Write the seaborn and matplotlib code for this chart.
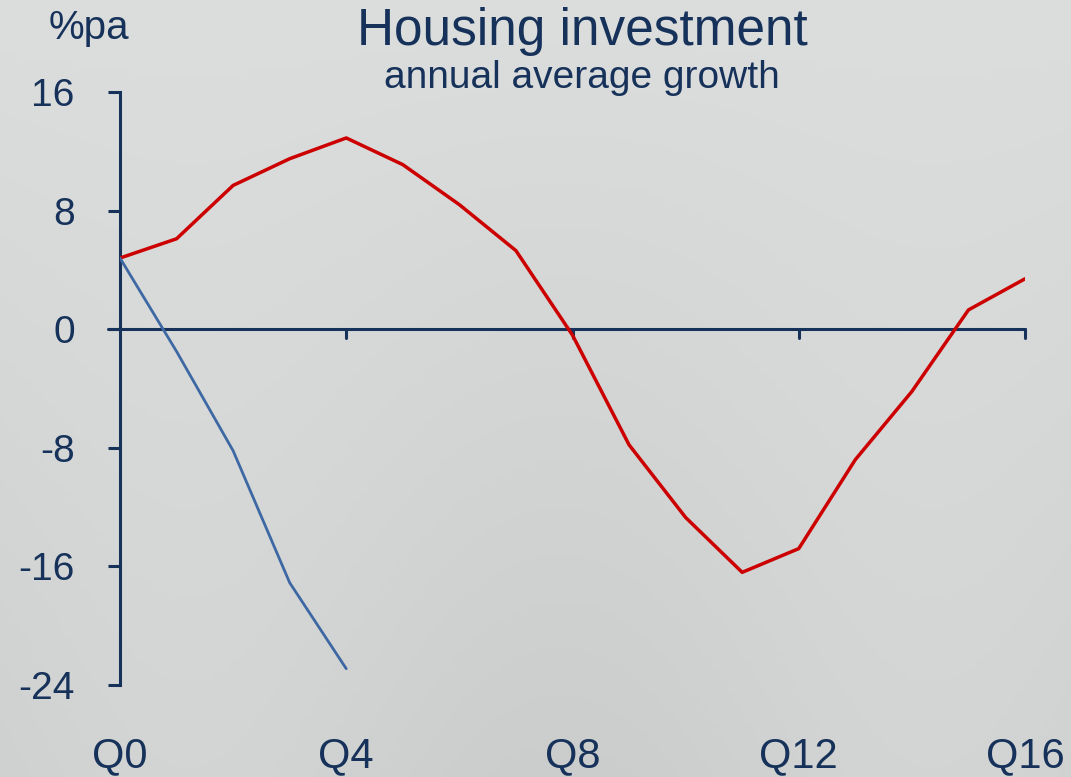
import numpy as np
import pandas as pd
import seaborn as sns
import matplotlib.pyplot as plt

# data
quarters = list(range(17))
red_vals = [4.8, 6.1, 9.7, 11.5, 12.9, 11.1, 8.4, 5.3, -0.4, -7.8, -12.7, -16.4, -14.8, -8.8, -4.2, 1.3, 3.4]
blue_quarters = [0, 1, 2, 3, 4]
blue_vals = [4.8, -1.5, -8.2, -17.1, -22.9]
y_ticks = [-24, -16, -8, 0, 8, 16]
x_ticks = [0, 4, 8, 12, 16]
x_labels = ["Q0", "Q4", "Q8", "Q12", "Q16"]

navy = "#17325A"
red = "#CC0000"
blue = "#3D68A3"

sns.set_style("white")
plt.rcParams["font.family"] = ["Liberation Sans", "DejaVu Sans"]

fig = plt.figure(figsize=(10.71, 7.77), dpi=100)

# soft grey background
bg = fig.add_axes([0, 0, 1, 1], zorder=0)
gy, gx = np.mgrid[0:1:200j, 0:1:200j]
shade = 0.86 - 0.05 * gy + 0.015 * np.sin(gx * 9) * gy
bg.imshow(np.dstack([shade, shade + 0.01, shade + 0.005]).clip(0, 1), aspect="auto", extent=[0, 1, 0, 1])
bg.axis("off")

W, H = 1071, 777
ax = fig.add_axes([120 / W, (H - 685) / H, (1025 - 120) / W, (685 - 92) / H], zorder=1)
ax.patch.set_alpha(0)

df_red = pd.DataFrame({"q": quarters, "v": red_vals})
df_blue = pd.DataFrame({"q": blue_quarters, "v": blue_vals})
sns.lineplot(data=df_red, x="q", y="v", color=red, linewidth=2.5, ax=ax, zorder=3)
sns.lineplot(data=df_blue, x="q", y="v", color=blue, linewidth=2.0, ax=ax, zorder=3)

ax.set_xlim(0, 16)
ax.set_ylim(-24, 16)
for s in ["top", "right", "bottom"]:
    ax.spines[s].set_visible(False)
ax.spines["left"].set_color(navy)
ax.spines["left"].set_linewidth(2.2)

# zero line with quarter ticks
ax.plot([-0.22, 16], [0, 0], color=navy, linewidth=2.2, clip_on=False, zorder=2)
for xt in x_ticks[1:]:
    ax.plot([xt, xt], [0, -0.6], color=navy, linewidth=2.2, clip_on=False, zorder=2)

ax.set_yticks(y_ticks)
ax.set_yticklabels([str(t) for t in y_ticks])
ax.tick_params(axis="y", direction="out", length=8.5, width=2.2, color=navy,
               labelcolor=navy, labelsize=28, pad=24, left=True)
ax.set_xticks([])
ax.set_xlabel("")
ax.set_ylabel("")

for xt, lab in zip(x_ticks, x_labels):
    ax.text(xt, -0.12, lab, transform=ax.get_xaxis_transform(), ha="center", va="center",
            fontsize=30, color=navy, clip_on=False)

fig.text(582 / W, 1 - 31 / H, "Housing investment", ha="center", va="center", fontsize=37, color=navy)
fig.text(582 / W, 1 - 78 / H, "annual average growth", ha="center", va="center", fontsize=28,
         color=navy)
fig.text(89 / W, 1 - 28 / H, "%pa", ha="center", va="center", fontsize=29, color=navy)

fig.savefig("out.png", dpi=100)
